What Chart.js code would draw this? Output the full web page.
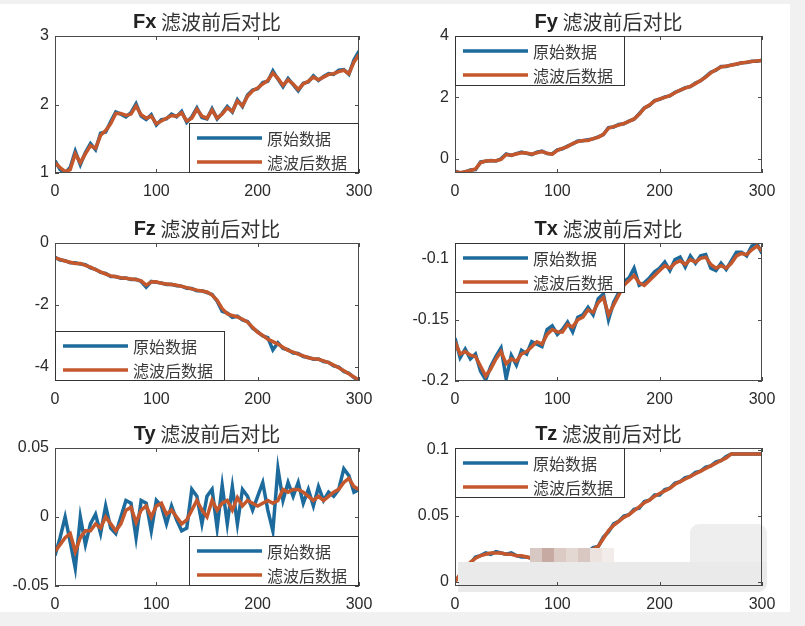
<!DOCTYPE html>
<html>
<head>
<meta charset="utf-8">
<script src="https://cdn.jsdelivr.net/npm/chart.js@4.4.1/dist/chart.umd.min.js"></script>
<style>
  body { margin: 0; width: 805px; height: 626px; overflow: hidden; position: relative; background: #f1f1f1; }
  #fig { position: absolute; left: 0; top: 4px; width: 790px; height: 608px; background: #fff; }
  canvas { position: absolute; }
</style>
</head>
<body>
<div id="fig"></div>
<canvas id="c0" width="400" height="205" style="left:0;top:0"></canvas>
<canvas id="c1" width="405" height="205" style="left:400px;top:0"></canvas>
<canvas id="c2" width="400" height="205" style="left:0;top:207px"></canvas>
<canvas id="c3" width="405" height="205" style="left:400px;top:207px"></canvas>
<canvas id="c4" width="400" height="205" style="left:0;top:412px"></canvas>
<canvas id="c5" width="405" height="205" style="left:400px;top:412px"></canvas>
<script>
// sample positions (every 5 samples)
const xs = [0,5,10,15,20,25,30,35,40,45,50,55,60,65,70,75,80,85,90,95,
  100,105,110,115,120,125,130,135,140,145,150,155,160,165,170,175,180,185,190,195,
  200,205,210,215,220,225,230,235,240,245,250,255,260,265,270,275,280,285,290,295,300];
const xTicks = [0, 100, 200, 300];
const legendLabels = ['原始数据', '滤波后数据'];

// Fx
const fxRaw = [1.18,1.05,1.00,1.08,1.32,1.12,1.30,1.43,1.34,1.58,
  1.60,1.75,1.89,1.86,1.82,1.88,2.01,1.83,1.78,1.85,
  1.70,1.78,1.79,1.86,1.82,1.90,1.74,1.82,1.95,1.81,
  1.79,1.94,1.79,1.87,1.97,1.89,2.07,1.97,2.14,2.21,
  2.23,2.32,2.34,2.49,2.37,2.26,2.38,2.29,2.20,2.31,
  2.33,2.42,2.35,2.41,2.45,2.44,2.50,2.51,2.44,2.65,2.78];
const fxFilt = [1.15,1.08,1.02,1.05,1.28,1.15,1.28,1.40,1.36,1.55,
  1.62,1.72,1.87,1.87,1.84,1.86,1.98,1.85,1.80,1.83,
  1.72,1.76,1.80,1.84,1.83,1.88,1.76,1.80,1.93,1.83,
  1.80,1.92,1.80,1.86,1.95,1.90,2.05,1.98,2.12,2.20,
  2.24,2.30,2.35,2.46,2.38,2.28,2.36,2.30,2.22,2.30,
  2.34,2.40,2.36,2.40,2.44,2.45,2.48,2.50,2.45,2.62,2.73];
const fxTicks = [1, 2, 3];

// Fy
const fyRaw = [-0.40,-0.46,-0.43,-0.36,-0.35,-0.10,-0.08,-0.05,-0.07,0.00,
  0.16,0.11,0.17,0.22,0.18,0.14,0.22,0.25,0.17,0.16,
  0.29,0.33,0.42,0.49,0.58,0.59,0.62,0.65,0.72,0.79,
  1.02,1.04,1.12,1.14,1.23,1.29,1.47,1.66,1.74,1.90,
  1.94,2.02,2.05,2.17,2.23,2.32,2.35,2.47,2.54,2.68,
  2.82,2.89,3.01,3.01,3.06,3.08,3.13,3.14,3.18,3.18,3.21];
const fyFilt = [-0.42,-0.45,-0.42,-0.38,-0.33,-0.12,-0.07,-0.06,-0.06,-0.02,
  0.14,0.12,0.16,0.20,0.19,0.15,0.20,0.24,0.18,0.15,
  0.28,0.34,0.40,0.50,0.56,0.60,0.60,0.66,0.70,0.80,
  1.00,1.05,1.10,1.15,1.22,1.30,1.45,1.65,1.75,1.88,
  1.95,2.00,2.06,2.15,2.24,2.30,2.36,2.45,2.55,2.66,
  2.80,2.90,2.99,3.02,3.05,3.09,3.12,3.15,3.17,3.19,3.20];
const fyTicks = [0, 2, 4];

// Fz
const fzRaw = [-0.46,-0.55,-0.57,-0.64,-0.64,-0.68,-0.70,-0.80,-0.85,-0.95,
  -0.98,-1.08,-1.08,-1.14,-1.13,-1.18,-1.17,-1.24,-1.42,-1.24,
  -1.27,-1.29,-1.34,-1.33,-1.38,-1.39,-1.46,-1.47,-1.54,-1.54,
  -1.60,-1.66,-1.88,-2.20,-2.26,-2.40,-2.36,-2.48,-2.53,-2.75,
  -2.86,-3.00,-3.05,-3.45,-3.22,-3.40,-3.44,-3.55,-3.56,-3.66,
  -3.69,-3.75,-3.74,-3.82,-3.85,-3.96,-4.00,-4.14,-4.20,-4.34,-4.43];
const fzFilt = [-0.48,-0.53,-0.58,-0.62,-0.66,-0.66,-0.72,-0.78,-0.86,-0.93,
  -1.00,-1.06,-1.09,-1.12,-1.14,-1.16,-1.18,-1.22,-1.36,-1.26,
  -1.25,-1.30,-1.32,-1.34,-1.36,-1.40,-1.44,-1.48,-1.52,-1.55,
  -1.58,-1.68,-1.85,-2.12,-2.28,-2.34,-2.38,-2.46,-2.55,-2.72,
  -2.88,-2.98,-3.10,-3.18,-3.26,-3.36,-3.46,-3.52,-3.58,-3.64,
  -3.70,-3.73,-3.75,-3.80,-3.86,-3.94,-4.02,-4.12,-4.22,-4.32,-4.42];
const fzTicks = [-4, -2, 0];

// Tx
const txRaw = [-0.165,-0.181,-0.174,-0.182,-0.178,-0.192,-0.199,-0.188,-0.180,-0.173,
  -0.198,-0.179,-0.187,-0.175,-0.178,-0.168,-0.170,-0.172,-0.158,-0.155,
  -0.162,-0.158,-0.152,-0.160,-0.148,-0.146,-0.140,-0.146,-0.133,-0.129,
  -0.150,-0.136,-0.128,-0.119,-0.116,-0.108,-0.122,-0.120,-0.116,-0.111,
  -0.108,-0.103,-0.110,-0.101,-0.099,-0.107,-0.098,-0.104,-0.098,-0.097,
  -0.108,-0.110,-0.104,-0.109,-0.102,-0.095,-0.095,-0.098,-0.090,-0.088,-0.096];
const txFilt = [-0.168,-0.178,-0.176,-0.179,-0.180,-0.188,-0.196,-0.190,-0.182,-0.176,
  -0.186,-0.182,-0.184,-0.178,-0.176,-0.172,-0.168,-0.170,-0.162,-0.158,
  -0.160,-0.160,-0.154,-0.156,-0.150,-0.148,-0.142,-0.144,-0.136,-0.132,
  -0.146,-0.138,-0.130,-0.122,-0.118,-0.114,-0.120,-0.122,-0.118,-0.114,
  -0.110,-0.106,-0.108,-0.104,-0.102,-0.105,-0.101,-0.103,-0.100,-0.099,
  -0.105,-0.108,-0.106,-0.108,-0.104,-0.098,-0.096,-0.097,-0.093,-0.090,-0.094];
const txTicks = [-0.2, -0.15, -0.1];

// Ty
const tyRaw = [-0.028,-0.015,0.000,-0.018,-0.037,0.000,-0.020,-0.005,0.002,-0.012,
  0.008,-0.008,-0.012,0.000,0.012,0.010,-0.015,0.012,0.010,-0.010,
  0.012,0.008,-0.005,0.008,-0.002,-0.010,-0.008,0.020,0.015,-0.005,
  0.015,0.020,-0.008,0.023,-0.005,0.022,-0.005,0.020,0.015,0.005,
  0.015,0.025,0.005,-0.010,0.035,0.012,0.025,0.015,0.025,0.010,
  0.020,0.008,0.022,0.012,0.018,0.015,0.020,0.035,0.030,0.018,0.020];
const tyFilt = [-0.025,-0.020,-0.015,-0.012,-0.025,-0.015,-0.010,-0.010,-0.005,-0.008,
  0.000,-0.005,-0.010,-0.005,0.005,0.007,-0.004,0.005,0.008,0.000,
  0.008,0.010,0.002,0.005,0.000,-0.005,-0.002,0.005,0.012,0.005,
  0.000,0.012,0.005,0.010,0.012,0.005,0.014,0.008,0.012,0.010,
  0.008,0.010,0.012,0.010,0.012,0.020,0.018,0.020,0.020,0.018,
  0.015,0.012,0.015,0.012,0.015,0.018,0.020,0.025,0.028,0.022,0.020];
const tyTicks = [-0.05, 0, 0.05];

// Tz
const tzRaw = [0.001,0.005,0.012,0.014,0.019,0.020,0.022,0.021,0.023,0.022,
  0.021,0.022,0.020,0.019,0.019,0.018,0.017,0.018,0.016,0.017,
  0.017,0.018,0.019,0.021,0.020,0.022,0.023,0.026,0.027,0.034,
  0.038,0.044,0.046,0.050,0.051,0.055,0.056,0.061,0.062,0.066,
  0.066,0.070,0.071,0.075,0.076,0.079,0.080,0.083,0.084,0.087,
  0.088,0.091,0.092,0.095,0.097,0.097,0.097,0.097,0.097,0.097,0.097];
const tzFilt = [0.000,0.006,0.011,0.015,0.018,0.020,0.021,0.022,0.022,0.022,
  0.021,0.021,0.020,0.020,0.019,0.018,0.017,0.017,0.017,0.017,
  0.017,0.018,0.019,0.020,0.021,0.022,0.023,0.025,0.027,0.033,
  0.039,0.043,0.046,0.049,0.051,0.054,0.057,0.060,0.062,0.065,
  0.067,0.069,0.071,0.074,0.076,0.078,0.080,0.082,0.084,0.086,
  0.088,0.090,0.092,0.094,0.097,0.097,0.097,0.097,0.097,0.097,0.097];
const tzTicks = [0, 0.05, 0.1];

const BLUE = '#1d6a9c';
const ORANGE = '#c4572b';
const TICK_FONT = { family: 'Liberation Sans, Arial, sans-serif', size: 16 };

const panels = [
  { id: 'c0', name: 'Fx', raw: fxRaw, filt: fxFilt, ticks: fxTicks, min: 1, max: 3, leg: 'se', right: 41, xh: 32 },
  { id: 'c1', name: 'Fy', raw: fyRaw, filt: fyFilt, ticks: fyTicks, min: -0.46, max: 4, leg: 'nw', right: 43, xh: 32 },
  { id: 'c2', name: 'Fz', raw: fzRaw, filt: fzFilt, ticks: fzTicks, min: -4.45, max: 0, leg: 'sw', right: 41, xh: 31 },
  { id: 'c3', name: 'Tx', raw: txRaw, filt: txFilt, ticks: txTicks, min: -0.2, max: -0.0875, leg: 'nw', right: 43, xh: 31 },
  { id: 'c4', name: 'Ty', raw: tyRaw, filt: tyFilt, ticks: tyTicks, min: -0.05, max: 0.05, leg: 'se', right: 41, xh: 31 },
  { id: 'c5', name: 'Tz', raw: tzRaw, filt: tzFilt, ticks: tzTicks, min: -0.003, max: 0.1015, leg: 'nw', right: 43, xh: 31, mosaic: true }
];

// blurred watermark patch that sits over the Tz panel in the screenshot
function drawMosaic(ctx) {
  const tints = ['#d8c8c3', '#c7aaa1', '#dccbc5', '#e4d8d3', '#d9c7c1', '#ece3df', '#f2ecea'];
  tints.forEach((c, i) => {
    ctx.fillStyle = c;
    ctx.fillRect(130 + i * 12, 136, 12, 15);
  });
  ctx.fillStyle = '#eeeeee';
  ctx.beginPath();
  ctx.roundRect(290, 112, 77, 68, 9);
  ctx.fill();
  ctx.fillStyle = '#ebeaea';
  ctx.beginPath();
  ctx.roundRect(58, 150, 309, 30, [0, 0, 9, 0]);
  ctx.fill();
}

// axes box, inward ticks, title and legend like the matlab figure
const matlabLook = {
  id: 'matlabLook',
  afterDatasetsDraw(chart, args, opts) {
    const ctx = chart.ctx;
    const a = chart.chartArea;
    const sx = chart.scales.x, sy = chart.scales.y;
    ctx.save();

    if (opts.mosaic) drawMosaic(ctx);

    ctx.strokeStyle = '#4a4a4a';
    ctx.lineWidth = 1;
    ctx.strokeRect(Math.round(a.left) + 0.5, Math.round(a.top) + 0.5, Math.round(a.width) - 1, Math.round(a.height) - 1);
    ctx.beginPath();
    xTicks.forEach(v => {
      const px = Math.round(sx.getPixelForValue(v)) + 0.5;
      ctx.moveTo(px, a.bottom); ctx.lineTo(px, a.bottom - 4);
      ctx.moveTo(px, a.top); ctx.lineTo(px, a.top + 4);
    });
    opts.ticks.forEach(v => {
      const py = Math.round(sy.getPixelForValue(v)) + 0.5;
      ctx.moveTo(a.left, py); ctx.lineTo(a.left + 4, py);
      ctx.moveTo(a.right, py); ctx.lineTo(a.right - 4, py);
    });
    ctx.stroke();

    // title
    const cx = (a.left + a.right) / 2;
    const ty = a.top - 14;
    ctx.textBaseline = 'middle';
    ctx.fillStyle = '#222';
    const f1 = 'bold 20px Liberation Sans, Arial, sans-serif';
    const f2 = '20px "Noto Sans CJK SC", sans-serif';
    const t2 = ' 滤波前后对比';
    ctx.font = f1;
    const w1 = ctx.measureText(opts.name).width;
    ctx.font = f2;
    const w2 = ctx.measureText(t2).width;
    const tx = cx - (w1 + w2) / 2;
    ctx.font = f1;
    ctx.textAlign = 'left';
    ctx.fillText(opts.name, tx, ty);
    ctx.font = f2;
    ctx.fillStyle = '#333';
    ctx.fillText(t2, tx + w1, ty);

    // legend
    const lw = 170, lh = 50;
    let lx = opts.leg.includes('w') ? a.left : a.right - lw;
    let ly = opts.leg.includes('n') ? a.top : a.bottom - lh;
    lx = Math.round(lx); ly = Math.round(ly);
    ctx.fillStyle = '#fff';
    ctx.fillRect(lx, ly, lw, lh);
    ctx.strokeStyle = '#333';
    ctx.strokeRect(lx + 0.5, ly + 0.5, lw - 1, lh - 1);
    ctx.font = '16px "Noto Sans CJK SC", sans-serif';
    chart.data.datasets.forEach((ds, i) => {
      const yy = ly + 15 + i * 24;
      ctx.strokeStyle = ds.borderColor;
      ctx.lineWidth = 3.5;
      ctx.beginPath();
      ctx.moveTo(lx + 8, yy); ctx.lineTo(lx + 73, yy);
      ctx.stroke();
      ctx.fillStyle = '#3a3a3a';
      ctx.fillText(ds.label, lx + 78, yy + 1);
    });
    ctx.restore();
  }
};

panels.forEach(p => {
  new Chart(document.getElementById(p.id), {
    type: 'line',
    data: {
      datasets: [
        { label: legendLabels[0], data: xs.map((x, i) => ({ x: x, y: p.raw[i] })), borderColor: BLUE, borderWidth: 3.5, pointRadius: 0, tension: 0, order: 2 },
        { label: legendLabels[1], data: xs.map((x, i) => ({ x: x, y: p.filt[i] })), borderColor: ORANGE, borderWidth: 3.5, pointRadius: 0, tension: 0, order: 1 }
      ]
    },
    plugins: [matlabLook],
    options: {
      responsive: false,
      animation: false,
      devicePixelRatio: 1,
      layout: { padding: { top: 36, left: 0, right: p.right, bottom: 0 } },
      plugins: {
        legend: { display: false },
        tooltip: { enabled: false },
        matlabLook: { name: p.name, ticks: p.ticks, leg: p.leg, mosaic: !!p.mosaic }
      },
      scales: {
        x: {
          type: 'linear', min: 0, max: 300,
          afterBuildTicks: s => { s.ticks = xTicks.map(v => ({ value: v })); },
          afterFit: s => { s.height = p.xh; },
          grid: { display: false, drawTicks: false },
          border: { display: false },
          ticks: { padding: 9, font: TICK_FONT, color: '#2a2a2a', maxRotation: 0, autoSkip: false, callback: v => String(v) }
        },
        y: {
          type: 'linear', min: p.min, max: p.max,
          afterBuildTicks: s => { s.ticks = p.ticks.map(v => ({ value: v })); },
          afterFit: s => { s.width = 55; },
          grid: { display: false, drawTicks: false },
          border: { display: false },
          ticks: { padding: 6, font: TICK_FONT, color: '#2a2a2a', autoSkip: false, callback: v => String(v) }
        }
      }
    }
  });
});
</script>
</body>
</html>
